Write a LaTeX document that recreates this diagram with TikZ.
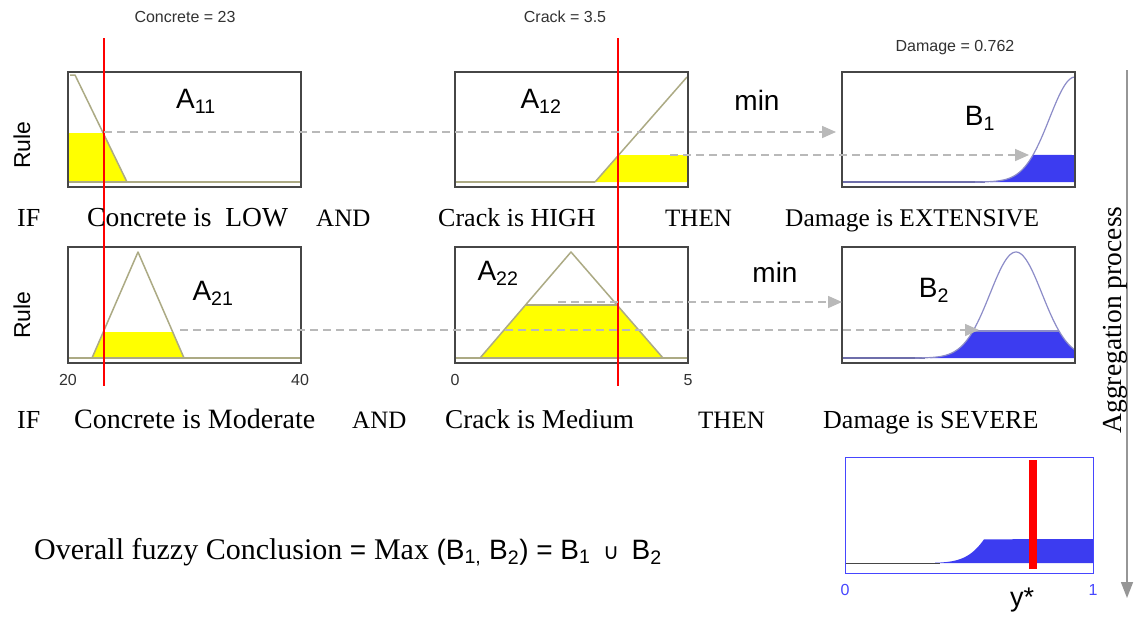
\documentclass[tikz,border=0pt]{standalone}
\usepackage{fontspec}
\setmainfont{Liberation Serif}
\setsansfont{Liberation Sans}
\newfontfamily\dejavu{DejaVu Sans}
\usetikzlibrary{arrows.meta}
\definecolor{mfline}{RGB}{172,170,132}
\definecolor{boxgray}{RGB}{70,70,70}
\definecolor{dashgray}{RGB}{185,185,185}
\definecolor{myyellow}{RGB}{255,255,0}
\definecolor{myblue}{RGB}{60,60,240}
\definecolor{bcurve}{RGB}{140,140,200}
\definecolor{bbase}{RGB}{110,110,170}
\definecolor{aggblue}{RGB}{70,70,255}
\definecolor{labgray}{RGB}{50,50,50}
\definecolor{arrgray}{RGB}{150,150,150}
\newcommand\fsz[1]{\fontsize{#1}{#1}\selectfont}
\begin{document}
\begin{tikzpicture}[x=1pt,y=-1pt,
  boxframe/.style={draw=boxgray, line width=1.5},
  mf/.style={draw=mfline, line width=1.5, line join=round},
  mfbase/.style={draw=mfline, line width=2},
  yfill/.style={fill=myyellow},
  bfill/.style={fill=myblue},
  bline/.style={draw=bcurve, line width=1.2},
  bbaseline/.style={draw=bbase, line width=2},
  redline/.style={draw=red, line width=1.3},
  dasharr/.style={draw=dashgray, line width=1.6, dash pattern=on 8pt off 5pt,
     -{Triangle[length=14pt,width=12pt,fill=dashgray]}},
  aggarr/.style={draw=arrgray, line width=1.5, -{Triangle[length=16pt,width=12pt,fill=arrgray]}},
  toplabel/.style={font=\sffamily\fsz{16}, text=labgray, inner sep=0},
  biglabel/.style={font=\sffamily\fsz{28}, inner sep=0},
  ticklabel/.style={font=\sffamily\fsz{16}, text=labgray, inner sep=0},
  rulelabel/.style={font=\sffamily\fsz{23}, rotate=90, inner sep=0},
  rowtext/.style={font=\fsz{26}, anchor=base west, inner sep=0},
]
\useasboundingbox (0,0) rectangle (1137,616);
\fill[white] (0,0) rectangle (1137,616);

% ---------- top labels
\node[toplabel] (t1) at (185,17) {Concrete = 23};
\node[toplabel] (t2) at (565,17) {Crack = 3.5};
\node[toplabel] (t3) at (955,48) {Damage = 0.762};

% ---------- Rule labels
\node[rulelabel] (rule1) at (22,145) {Rule};
\node[rulelabel] (rule2) at (22,315) {Rule};

% ---------- Row 1: A11
\fill[yfill] (68,182) -- (68,133) -- (103.5,133) -- (127,182) -- cycle;
\draw[mfbase] (68,182) -- (300,182);
\draw[mf] (70,75) -- (75,75) -- (127,182);
\draw[boxframe] (68,72) rectangle (301,187);

% ---------- Row 1: A12
\fill[yfill] (595,182) -- (618.5,155) -- (688,155) -- (688,182) -- cycle;
\draw[mfbase] (455,182) -- (595,182);
\draw[mf] (595,182) -- (687,77);
\draw[boxframe] (455,72) rectangle (688,187);

% ---------- Row 1: B1
\fill[bfill] (990,182) -- plot[domain=990:1033,samples=30] (\x,{182-105*exp(-0.5*((\x-1075)/25.5)^2)}) -- (1075,155) -- (1075,182) -- cycle;
\draw[bbaseline] (842,182) -- (985,182);
\draw[bline] plot[domain=975:1075,samples=60] (\x,{182-105*exp(-0.5*((\x-1075)/25.5)^2)});
\draw[boxframe] (842,72) rectangle (1075,187);

% ---------- Row 2: A21
\fill[yfill] (92,358) -- (103.3,332) -- (172.7,332) -- (184,358) -- cycle;
\draw[mfbase] (68,358) -- (301,358);
\draw[mf] (92,358) -- (138,252) -- (184,358);
\draw[boxframe] (68,247) rectangle (301,363);

% ---------- Row 2: A22
\fill[yfill] (480,358) -- (525.5,305) -- (617,305) -- (663,358) -- cycle;
\draw[mfbase] (455,358) -- (688,358);
\draw[mf] (480,358) -- (571,252) -- (663,358);
\draw[mf] (525.5,305) -- (617,305);
\draw[boxframe] (455,247) rectangle (688,363);

% ---------- Row 2: B2
\fill[bfill] (930,358) -- plot[domain=930:973,samples=30] (\x,{358-106*exp(-0.5*((\x-1016)/26)^2)}) -- (1059,331) -- plot[domain=1059:1075,samples=10] (\x,{358-106*exp(-0.5*((\x-1016)/26)^2)}) -- (1075,358) -- cycle;
\draw[bbaseline] (842,358) -- (925,358);
\draw[bline] plot[domain=915:1075,samples=80] (\x,{358-106*exp(-0.5*((\x-1016)/26)^2)});
\draw[bline] (973,331) -- (1059,331);
\draw[boxframe] (842,247) rectangle (1075,363);

% ---------- labels in boxes
\node[biglabel] (lA11) at (196,101) {A\textsubscript{11}};
\node[biglabel] (lA12) at (541,101) {A\textsubscript{12}};
\node[biglabel] (lB1) at (980,118) {B\textsubscript{1}};
\node[biglabel] (lA21) at (213,293) {A\textsubscript{21}};
\node[biglabel] (lA22) at (498,273) {A\textsubscript{22}};
\node[biglabel] (lB2) at (934,290) {B\textsubscript{2}};
\node[biglabel] (min1) at (757,100) {min};
\node[biglabel] (min2) at (775,272) {min};

% ---------- tick labels
\node[ticklabel] (x20) at (68,380) {20};
\node[ticklabel] (x40) at (300,380) {40};
\node[ticklabel] (x0) at (455,380) {0};
\node[ticklabel] (x5) at (688,380) {5};

% ---------- red input lines
\coordinate (r1t) at (104,38); \coordinate (r1b) at (104,386);
\coordinate (r2t) at (618,38); \coordinate (r2b) at (618,386);
\draw[redline] (r1t) -- (r1b);
\draw[redline] (r2t) -- (r2b);

% ---------- dashed arrows
\coordinate (d1s) at (104,132); \coordinate (d1e) at (836,132);
\coordinate (d2s) at (670,155); \coordinate (d2e) at (1029,155);
\coordinate (d3s) at (180,330); \coordinate (d3e) at (979,330);
\coordinate (d4s) at (558,302); \coordinate (d4e) at (842,302);
\draw[dasharr] (d1s) -- (d1e);
\draw[dasharr] (d2s) -- (d2e);
\draw[dasharr] (d3s) -- (d3e);
\draw[dasharr] (d4s) -- (d4e);

% ---------- row texts
\node[rowtext] (if1) at (17,226) {IF};
\node[rowtext, font=\fsz{27.5}] (c1) at (87,226) {Concrete is\ \ LOW};
\node[rowtext, font=\fsz{25}] (and1) at (316,226) {AND};
\node[rowtext] (k1) at (438,226) {Crack is HIGH};
\node[rowtext, font=\fsz{25}] (then1) at (665,226) {THEN};
\node[rowtext, font=\fsz{25.4}] (dm1) at (785,226) {Damage is EXTENSIVE};

\node[rowtext] (if2) at (17,428) {IF};
\node[rowtext, font=\fsz{28}] (c2) at (74,428) {Concrete is Moderate};
\node[rowtext, font=\fsz{25}] (and2) at (352,428) {AND};
\node[rowtext, font=\fsz{27.2}] (k2) at (445,428) {Crack is Medium};
\node[rowtext, font=\fsz{25}] (then2) at (698,428) {THEN};
\node[rowtext] (dm2) at (823,428) {Damage is SEVERE};

% ---------- aggregated output
\fill[bfill] (935,563) -- plot[domain=935:984,samples=30] (\x,{563-94*exp(-0.5*((\x-1030)/27.7)^2)}) -- (1093,539) -- (1093,563) -- cycle;
\draw[draw=boxgray, line width=1] (845,563) -- (940,563);
\draw[draw=aggblue, line width=1] (845,457) rectangle (1093,573);
\draw[draw=red, line width=8] (1033,460) -- (1033,569);
\node[ticklabel, text=aggblue] (a0) at (845,590) {0};
\node[ticklabel, text=aggblue] (a1) at (1093,590) {1};
\node[font=\sffamily\fsz{27}, inner sep=0] (ystar) at (1022,600) {y*};

% ---------- aggregation arrow
\coordinate (ag1) at (1127,70); \coordinate (ag2) at (1127,598);
\draw[aggarr] (ag1) -- (ag2);
\node[font=\fsz{27.5}, rotate=90, anchor=base, inner sep=0] (aggtxt) at (1121,320) {Aggregation process};

% ---------- conclusion
\node[anchor=base west, inner sep=0] (concl) at (34,559)
  {\fsz{30}Overall fuzzy Conclusion {\sffamily\fsz{28}= }Max {\sffamily\fsz{28}(B\textsubscript{1,} B\textsubscript{2}) = B\textsubscript{1}\, {\dejavu\fsz{22}∪}\, B\textsubscript{2}}};
\end{tikzpicture}
\end{document}
